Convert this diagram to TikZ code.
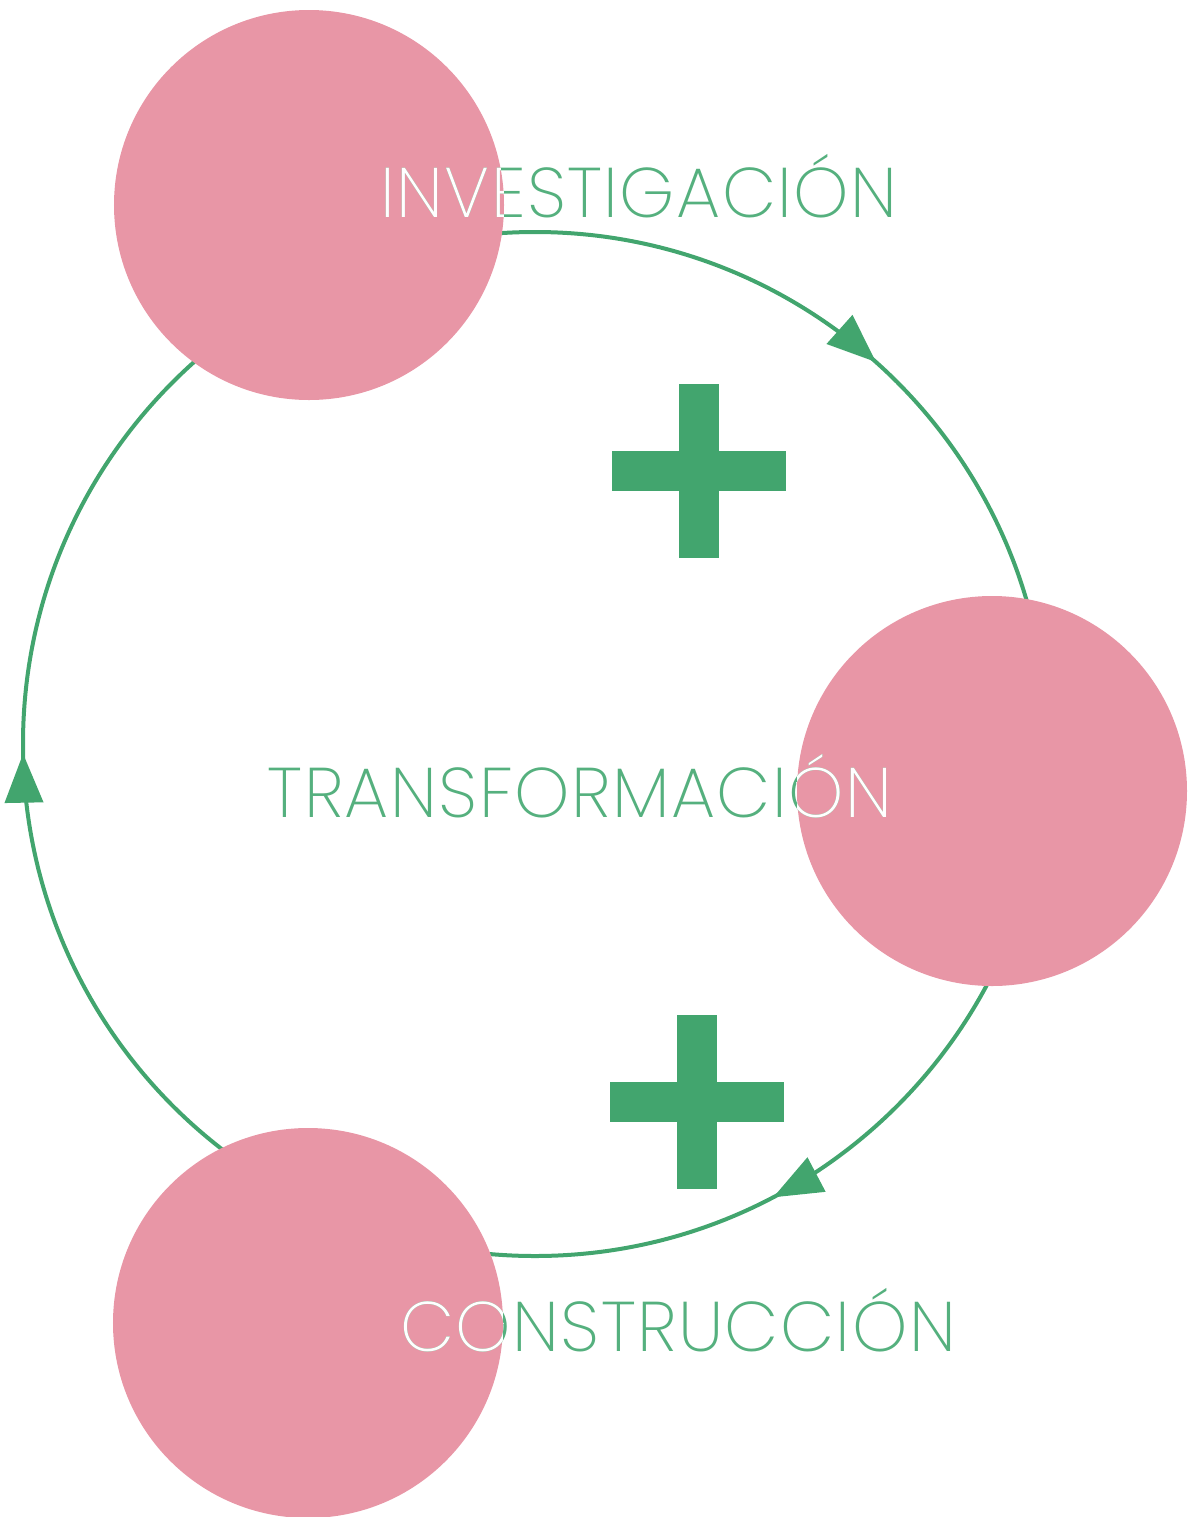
\documentclass[tikz,border=0pt]{standalone}
\usepackage{fontspec}
\usetikzlibrary{arrows.meta,decorations.markings}
\newfontfamily\thinfont{Poppins ExtraLight}[LetterSpace=2]
\definecolor{loopgreen}{HTML}{42A56E}
\definecolor{wordgreen}{HTML}{55B07E}
\definecolor{blobpink}{HTML}{E896A6}
\tikzset{
  blob/.style={circle, fill=blobpink, minimum size=78mm, inner sep=0pt},
  stage/.style={font=\thinfont\fontsize{40}{48}\selectfont, text=wordgreen, anchor=base, inner sep=0pt},
  loopline/.style={draw, color=loopgreen, line width=0.8mm, postaction={decorate},
    decoration={markings,
      mark=at position 0.173 with {\arrow{Triangle[length=9.8mm,width=7.6mm]}},
      mark=at position 0.497 with {\arrow{Triangle[length=9.8mm,width=7.6mm]}},
      mark=at position 0.866 with {\arrow{Triangle[length=9.8mm,width=7.6mm]}}}},
  plussign/.pic={
    \fill[loopgreen] (-20,-87) rectangle (20,87);
    \fill[loopgreen] (-87,-20) rectangle (87,20);
  }
}
\begin{document}
\begin{tikzpicture}[x=0.2mm, y=-0.2mm]
  \useasboundingbox (0,0) rectangle (1196,1517);

  \coordinate (hub) at (535,744);
  \draw[loopline] (hub) circle[radius=512];

  \node[blob] (inv) at (309,205) {};
  \node[blob] (trans) at (992,791) {};
  \node[blob] (cons) at (308,1323) {};

  \pic at (699,471) {plussign};
  \pic at (697,1102) {plussign};

  \node[stage] (invtext) at (639,217) {INVESTIGACIÓN};
  \node[stage] (transtext) at (580,817) {TRANSFORMACIÓN};
  \node[stage] (constext) at (678,1351) {CONSTRUCCIÓN};

  \begin{scope}
    \clip (inv) circle[radius=195];
    \node[stage, text=white] at (invtext.base) {INVESTIGACIÓN};
  \end{scope}
  \begin{scope}
    \clip (trans) circle[radius=196];
    \node[stage, text=white] at (transtext.base) {TRANSFORMACIÓN};
  \end{scope}
  \begin{scope}
    \clip (cons) circle[radius=195];
    \node[stage, text=white] at (constext.base) {CONSTRUCCIÓN};
  \end{scope}
\end{tikzpicture}
\end{document}
